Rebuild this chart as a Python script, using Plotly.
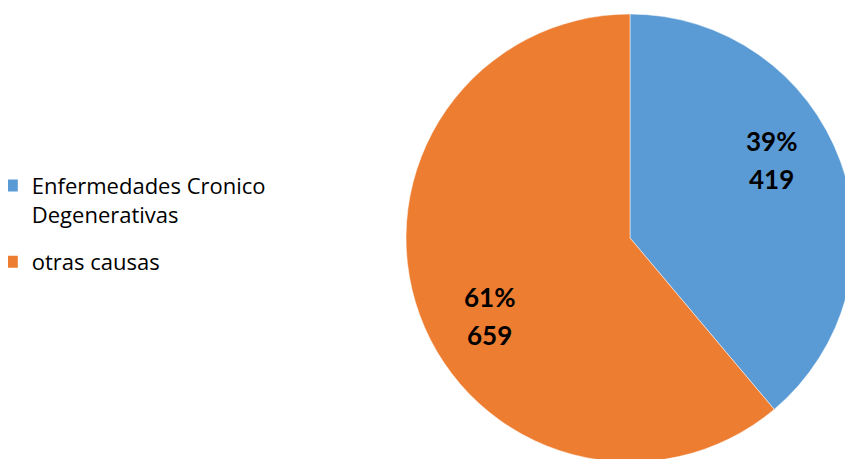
import math
import plotly.graph_objects as go

labels = ["Enfermedades Cronico<br>Degenerativas", "otras causas"]
values = [419, 659]
colors = ["#5B9BD5", "#ED7D31"]

W, H = 853, 459
dom_x = [0.4666, 0.9918]
dom_y = [0.0109, 0.987]

fig = go.Figure(go.Pie(
    labels=labels,
    values=values,
    sort=False,
    direction="clockwise",
    rotation=0,
    marker=dict(colors=colors, line=dict(color="white", width=0.5)),
    textinfo="none",
    hoverinfo="label+value+percent",
    domain=dict(x=dom_x, y=dom_y),
    showlegend=False,
))

# legend entries (square keys like the original)
for i, (lab, col) in enumerate(zip(labels, colors)):
    fig.add_trace(go.Scatter(
        x=[None], y=[None], mode="markers", name=lab,
        legendgroup=f"g{i}",
        marker=dict(symbol="square", size=12, color=col),
        showlegend=True,
    ))

# data labels placed from slice angles
cx_px = (dom_x[0] + dom_x[1]) / 2 * W
cy_px = (1 - (dom_y[0] + dom_y[1]) / 2) * H
R = min((dom_x[1] - dom_x[0]) * W, (dom_y[1] - dom_y[0]) * H) / 2
total = sum(values)
cum = 0
for v in values:
    frac = v / total
    mid = (cum + frac / 2) * 360 - 9
    cum += frac
    a = math.radians(mid)
    px = cx_px + 0.72 * R * math.sin(a)
    py = cy_px - 0.72 * R * math.cos(a)
    for txt, ys in [(f"<b>{round(frac * 100)}%</b>", 19), (f"<b>{v}</b>", -19)]:
        fig.add_annotation(
            x=px / W, y=1 - py / H, xref="paper", yref="paper",
            xanchor="center", yanchor="middle",
            text=txt, showarrow=False, yshift=ys,
            font=dict(family="Lato, sans-serif", size=26, color="black"),
        )

fig.update_layout(
    width=W, height=H,
    margin=dict(l=0, r=0, t=0, b=0, autoexpand=False),
    paper_bgcolor="white",
    plot_bgcolor="white",
    font=dict(family="Lato, sans-serif", color="black"),
    xaxis=dict(visible=False),
    yaxis=dict(visible=False),
    legend=dict(
        x=-0.019, y=0.53, xanchor="left", yanchor="middle",
        font=dict(family="Open Sans, sans-serif", size=22, color="black"),
        itemsizing="trace",
        tracegroupgap=16,
        valign="top",
    ),
)

fig.write_html("out.html")
